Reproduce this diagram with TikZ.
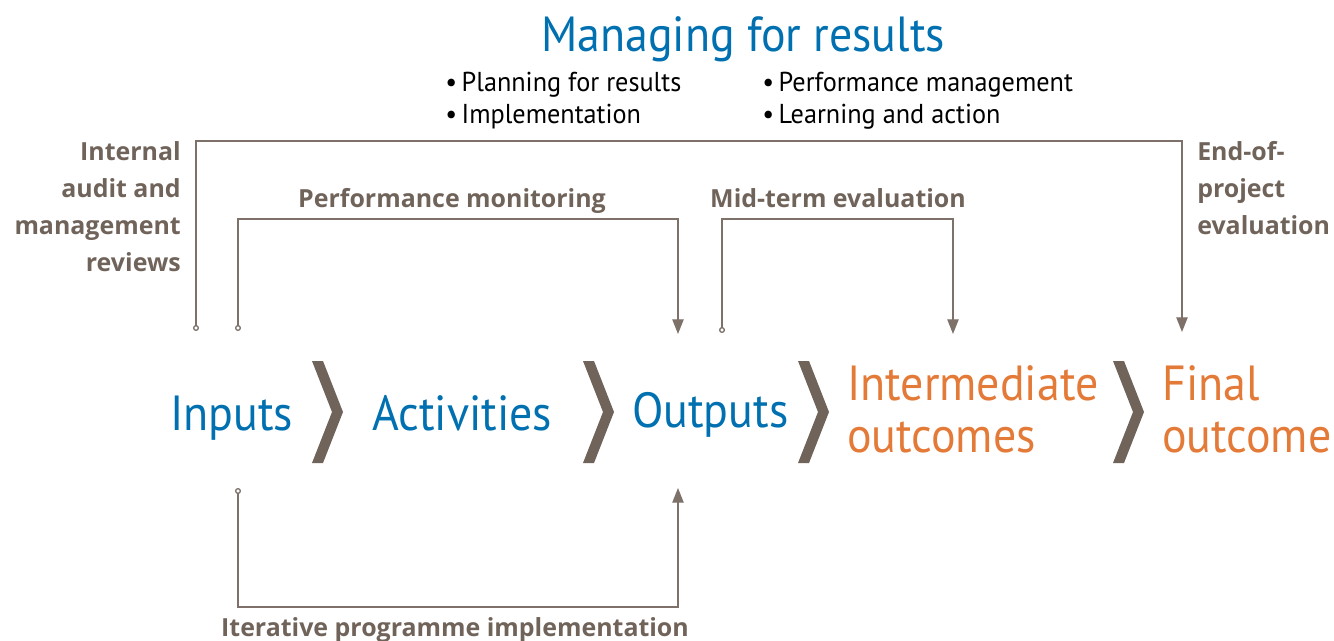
\documentclass[tikz,border=0pt]{standalone}
\usepackage{fontspec}
\setmainfont{PT Sans}
\newfontfamily\condfont[FakeStretch=0.93]{PT Sans}
\newfontfamily\itemfont[FakeStretch=0.96]{PT Sans}
\newfontfamily\labelfont{Open Sans}
\usetikzlibrary{positioning}
\usetikzlibrary{arrows.meta}
\usetikzlibrary{calc}
\definecolor{mfrblue}{RGB}{0,112,176}
\definecolor{mfrorange}{RGB}{228,122,56}
\definecolor{mfrbrown}{RGB}{112,99,90}
\definecolor{mfrline}{RGB}{125,113,105}
\tikzstyle{stage} = [font=\condfont\fontsize{37}{39}\selectfont, text=mfrblue, inner sep=0pt, anchor=base west]
\tikzstyle{result} = [stage, text=mfrorange, align=left]
\tikzstyle{item} = [font=\itemfont\fontsize{20.5}{24}\selectfont, inner sep=0pt, anchor=base west]
\tikzstyle{tag} = [font=\labelfont\bfseries\fontsize{18.7}{27.75}\selectfont, text=mfrbrown, inner sep=0pt]
\tikzstyle{loop} = [draw=mfrline, line width=1pt, {Circle[open,length=4.5pt,width=4.5pt]}-{Triangle[length=11pt,width=8.5pt]}]
\tikzstyle{chev} = [fill=mfrbrown]

\begin{document}
\begin{tikzpicture}[x=0.75pt,y=-0.75pt]
  \useasboundingbox (0,0) rectangle (1334,641);

  % ============================ Heading =======================================

  \node[stage] (mfr) at (541,52) {Managing for results};
  \node[item] (plan) at (445,92) {\textbullet\,Planning for results};
  \node[item] (impl) at (445,124) {\textbullet\,Implementation};
  \node[item] (perf) at (762,92) {\textbullet\,Performance management};
  \node[item] (learn) at (762,124) {\textbullet\,Learning and action};

  % ============================= Chain ========================================

  \node[stage] (inp) at (170,430) {Inputs};
  \node[stage] (act) at (372,430) {Activities};
  \node[stage] (out) at (632,427) {Outputs};
  \node[result] (inter) at (847,452) {Intermediate\\outcomes};
  \node[result] (final) at (1162,452) {Final\\outcome};
  \foreach \x in {312,583,798,1113}
    \fill[chev] (\x,361) -- ++(11,0) -- ++(20,51) -- ++(-20,51)
      -- ++(-11,0) -- ++(20,-51) -- cycle;

  % ============================= Labels =======================================

  \node[tag, align=right, anchor=north east] (audit) at (181,141)
    {Internal\\audit and\\management\\reviews};
  \node[tag, align=left, anchor=north west] (eop) at (1197,141)
    {End-of-\\project\\evaluation};
  \node[tag, anchor=base] (pm) at (452,208) {Performance monitoring};
  \node[tag, anchor=base] (mt) at (838,208) {Mid-term evaluation};
  \node[tag, anchor=base] (ipi) at (455,636) {Iterative programme implementation};

  % ============================= Connect ======================================

  \coordinate (auditstart) at (196,331);
  \coordinate (audittop) at (196,141);
  \coordinate (eopend) at (1182,332);
  \coordinate (pmstart) at (238,331);
  \coordinate (pmtop) at (238,219);
  \coordinate (pmend) at (678,334);
  \coordinate (mtstart) at (722,333);
  \coordinate (mttop) at (722,219);
  \coordinate (mtend) at (953,334);
  \coordinate (ipistart) at (238,488);
  \coordinate (ipibot) at (238,607);
  \coordinate (ipiend) at (678,488);
  \path[loop] (auditstart) -- (audittop) -| (eopend);
  \path[loop] (pmstart) -- (pmtop) -| (pmend);
  \path[loop] (mtstart) -- (mttop) -| (mtend);
  \path[loop] (ipistart) -- (ipibot) -| (ipiend);

\end{tikzpicture}
\end{document}
